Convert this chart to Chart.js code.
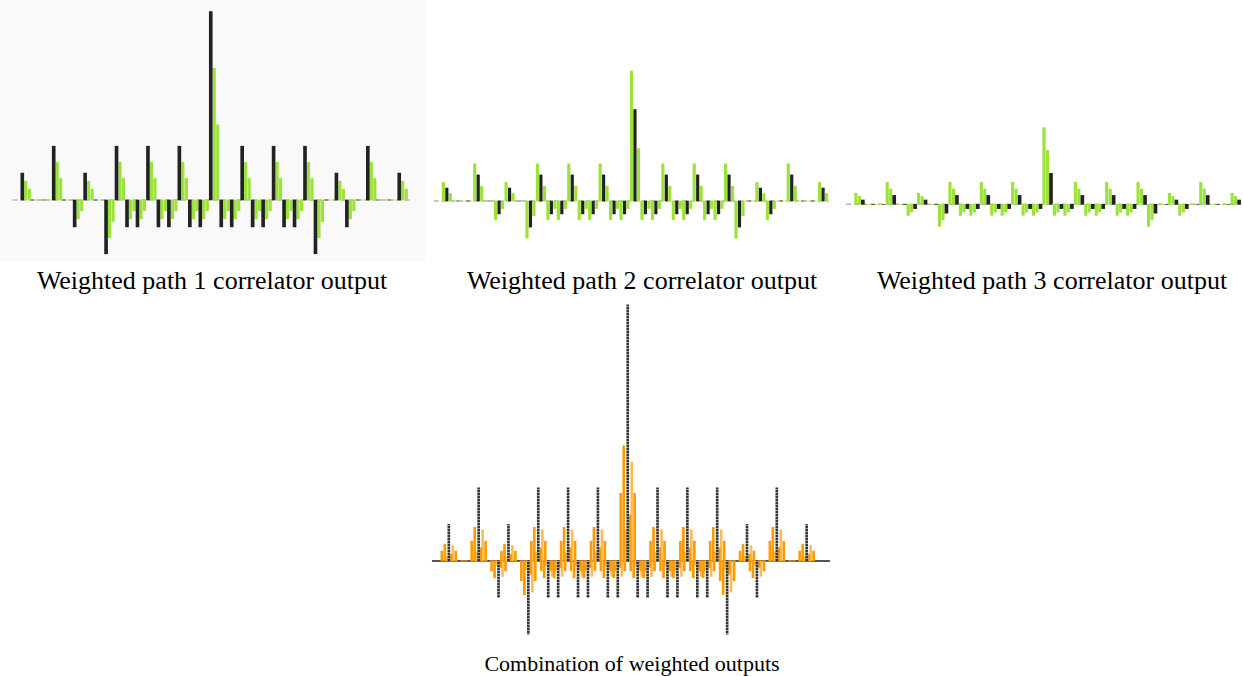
<!DOCTYPE html>
<html>
<head>
<meta charset="utf-8">
<script src="https://cdn.jsdelivr.net/npm/chart.js@4.4.1/dist/chart.umd.min.js"></script>
<style>
  html, body { margin: 0; padding: 0; background: #ffffff; width: 1243px; height: 676px; overflow: hidden; }
  canvas.panel { position: absolute; display: block; }
  .caption {
    position: absolute;
    font-family: "Liberation Serif", "Times New Roman", serif;
    color: #000;
    white-space: nowrap;
    transform: translateX(-50%);
  }
  .top { font-size: 26px; line-height: 26px; top: 268px; }
  .bottom { font-size: 22px; line-height: 22px; top: 653px; }
</style>
</head>
<body>
<canvas id="p1" class="panel" width="425" height="262" style="left:0;top:0;background:#f9f9f9"></canvas>
<canvas id="p2" class="panel" width="410" height="262" style="left:430px;top:0"></canvas>
<canvas id="p3" class="panel" width="403" height="262" style="left:840px;top:0"></canvas>
<canvas id="p4" class="panel" width="425" height="350" style="left:420px;top:295px"></canvas>

<div class="caption top" style="left:212px">Weighted path 1 correlator output</div>
<div class="caption top" style="left:642px">Weighted path 2 correlator output</div>
<div class="caption top" style="left:1052px">Weighted path 3 correlator output</div>
<div class="caption bottom" style="left:632px">Combination of weighted outputs</div>

<script>
// Correlator lag, in chips
const lags = [-18,-17,-16,-15,-14,-13,-12,-11,-10,-9,-8,-7,-6,-5,-4,-3,-2,-1,0,
              1,2,3,4,5,6,7,8,9,10,11,12,13,14,15,16,17,18];

// Path 1: on-time sample (black) and the two later samples (green)
const path1Delays = [0, 0.333, 0.667];
const path1OnTime = [1,0,0,2,0,-1,1,0,-2,2,-1,-1,2,-1,-1,2,-1,-1,7,-1,-1,2,-1,-1,2,-1,-1,2,-2,0,1,-1,0,2,0,0,1];
const path1Late1  = [0.7,0,0,1.4,0,-0.7,0.7,0,-1.4,1.4,-0.7,-0.7,1.4,-0.7,-0.7,1.4,-0.7,-0.7,4.9,-0.7,-0.7,1.4,-0.7,-0.7,1.4,-0.7,-0.7,1.4,-1.4,0,0.7,-0.7,0,1.4,0,0,0.7];
const path1Late2  = [0.4,0,0,0.8,0,-0.4,0.4,0,-0.8,0.8,-0.4,-0.4,0.8,-0.4,-0.4,0.8,-0.4,-0.4,2.8,-0.4,-0.4,0.8,-0.4,-0.4,0.8,-0.4,-0.4,0.8,-0.8,0,0.4,-0.4,0,0.8,0,0,0.4];

// Path 2: early sample (green), on-time sample (black), late sample (green)
const path2Delays = [0, 0.333, 0.667];
const path2Early  = [0.69,0,0,1.38,0,-0.69,0.69,0,-1.38,1.38,-0.69,-0.69,1.38,-0.69,-0.69,1.38,-0.69,-0.69,4.83,-0.69,-0.69,1.38,-0.69,-0.69,1.38,-0.69,-0.69,1.38,-1.38,0,0.69,-0.69,0,1.38,0,0,0.69];
const path2OnTime = [0.48,0,0,0.97,0,-0.48,0.48,0,-0.97,0.97,-0.48,-0.48,0.97,-0.48,-0.48,0.97,-0.48,-0.48,3.4,-0.48,-0.48,0.97,-0.48,-0.48,0.97,-0.48,-0.48,0.97,-0.97,0,0.48,-0.48,0,0.97,0,0,0.48];
const path2Late   = [0.28,0,0,0.55,0,-0.28,0.28,0,-0.55,0.55,-0.28,-0.28,0.55,-0.28,-0.28,0.55,-0.28,-0.28,1.95,-0.28,-0.28,0.55,-0.28,-0.28,0.55,-0.28,-0.28,0.55,-0.55,0,0.28,-0.28,0,0.55,0,0,0.28];

// Path 3: two early samples (green), on-time sample (black)
const path3Delays = [0, 0.333, 0.667];
const path3Early1 = [0.41,0,0,0.82,0,-0.41,0.41,0,-0.82,0.82,-0.41,-0.41,0.82,-0.41,-0.41,0.82,-0.41,-0.41,2.85,-0.41,-0.41,0.82,-0.41,-0.41,0.82,-0.41,-0.41,0.82,-0.82,0,0.41,-0.41,0,0.82,0,0,0.41];
const path3Early2 = [0.29,0,0,0.57,0,-0.29,0.29,0,-0.57,0.57,-0.29,-0.29,0.57,-0.29,-0.29,0.57,-0.29,-0.29,2.0,-0.29,-0.29,0.57,-0.29,-0.29,0.57,-0.29,-0.29,0.57,-0.57,0,0.29,-0.29,0,0.57,0,0,0.29];
const path3OnTime = [0.16,0,0,0.33,0,-0.16,0.16,0,-0.33,0.33,-0.16,-0.16,0.33,-0.16,-0.16,0.33,-0.16,-0.16,1.15,-0.16,-0.16,0.33,-0.16,-0.16,0.33,-0.16,-0.16,0.33,-0.33,0,0.16,-0.16,0,0.33,0,0,0.16];

// Combined output: aligned peak (black) and neighbouring samples (orange)
const combDelays   = [-0.7, -0.4, -0.2, 0.22, 0.4, 0.7];
const combPeak     = [1,0,0,2,0,-1,1,0,-2,2,-1,-1,2,-1,-1,2,-1,-1,7,-1,-1,2,-1,-1,2,-1,-1,2,-2,0,1,-1,0,2,0,0,1];
const combMinus07  = [0.27,0,0,0.54,0,-0.27,0.27,0,-0.54,0.54,-0.27,-0.27,0.54,-0.27,-0.27,0.54,-0.27,-0.27,1.85,-0.27,-0.27,0.54,-0.27,-0.27,0.54,-0.27,-0.27,0.54,-0.54,0,0.27,-0.27,0,0.54,0,0,0.27];
const combMinus04  = [0.46,0,0,0.92,0,-0.46,0.46,0,-0.92,0.92,-0.46,-0.46,0.92,-0.46,-0.46,0.92,-0.46,-0.46,3.15,-0.46,-0.46,0.92,-0.46,-0.46,0.92,-0.46,-0.46,0.92,-0.92,0,0.46,-0.46,0,0.92,0,0,0.46];
const combMinus02  = [0.12,0,0,0.24,0,-0.12,0.12,0,-0.24,0.24,-0.12,-0.12,0.24,-0.12,-0.12,0.24,-0.12,-0.12,0.85,-0.12,-0.12,0.24,-0.12,-0.12,0.24,-0.12,-0.12,0.24,-0.24,0,0.12,-0.12,0,0.24,0,0,0.12];
const combPlus02   = [0.18,0,0,0.36,0,-0.18,0.18,0,-0.36,0.36,-0.18,-0.18,0.36,-0.18,-0.18,0.36,-0.18,-0.18,1.25,-0.18,-0.18,0.36,-0.18,-0.18,0.36,-0.18,-0.18,0.36,-0.36,0,0.18,-0.18,0,0.36,0,0,0.18];
const combPlus04   = [0.42,0,0,0.85,0,-0.42,0.42,0,-0.85,0.85,-0.42,-0.42,0.85,-0.42,-0.42,0.85,-0.42,-0.42,2.7,-0.42,-0.42,0.85,-0.42,-0.42,0.85,-0.42,-0.42,0.85,-0.85,0,0.42,-0.42,0,0.85,0,0,0.42];
const combPlus07   = [0.27,0,0,0.54,0,-0.27,0.27,0,-0.54,0.54,-0.27,-0.27,0.54,-0.27,-0.27,0.54,-0.27,-0.27,1.85,-0.27,-0.27,0.54,-0.27,-0.27,0.54,-0.27,-0.27,0.54,-0.54,0,0.27,-0.27,0,0.54,0,0,0.27];

// Extent of the zero line, in chips
const zeroLine1 = [-18.92, 19.12];
const zeroLine2 = [-18.9, 18.85];
const zeroLine3 = [-18.95, 18.8];
const zeroLine4 = [-19.7, 20.35];

const GREEN = '#9be33a';
const BLACK = '#222222';
const ORANGE = '#ff9a00';
const ORANGE_LIGHT = '#ffbb55';

function stems(values, delay) {
  return values.map((v, i) => ({ x: lags[i] + delay, y: v }));
}

function barSet(values, delay, color, thickness, order) {
  return {
    type: 'bar',
    data: stems(values, delay),
    backgroundColor: color,
    borderWidth: 0,
    barThickness: thickness,
    grouped: false,
    order: order
  };
}

function zeroSet(ext, color, width, dash) {
  return {
    type: 'line',
    data: [{ x: ext[0], y: 0 }, { x: ext[1], y: 0 }],
    borderColor: color,
    borderWidth: width,
    borderDash: dash,
    pointRadius: 0,
    fill: false,
    order: 10
  };
}

function makeChart(id, datasets, xr, yr) {
  return new Chart(document.getElementById(id), {
    type: 'bar',
    data: { datasets },
    options: {
      responsive: false,
      animation: false,
      devicePixelRatio: 1,
      layout: { padding: 0 },
      plugins: { legend: { display: false }, tooltip: { enabled: false }, title: { display: false } },
      scales: {
        x: { type: 'linear', min: xr[0], max: xr[1], offset: false, display: false, grid: { display: false } },
        y: { type: 'linear', min: yr[0], max: yr[1], display: false, grid: { display: false } }
      }
    }
  });
}

// Dotted look for the black stems of the combined output
const dotCanvas = document.createElement('canvas');
dotCanvas.width = 2; dotCanvas.height = 3;
const dctx = dotCanvas.getContext('2d');
dctx.fillStyle = '#333333'; dctx.fillRect(0, 0, 2, 2);
dctx.fillStyle = '#9a9a9a'; dctx.fillRect(0, 2, 2, 1);
const dotPattern = dctx.createPattern(dotCanvas, 'repeat');

makeChart('p1', [
  zeroSet(zeroLine1, '#b5b5b5', 1.5, [5, 3]),
  barSet(path1OnTime, path1Delays[0], BLACK, 3, 1),
  barSet(path1Late1, path1Delays[1], GREEN, 2.5, 2),
  barSet(path1Late2, path1Delays[2], GREEN, 2.5, 2)
], [-20.13, 20.46], [-2.305, 7.435]);

makeChart('p2', [
  zeroSet(zeroLine2, '#b5b5b5', 1.5, [5, 3]),
  barSet(path2Early, path2Delays[0], GREEN, 2.5, 2),
  barSet(path2OnTime, path2Delays[1], BLACK, 2.5, 1),
  barSet(path2Late, path2Delays[2], GREEN, 2.5, 2)
], [-19.28, 19.95], [-2.268, 7.472]);

makeChart('p3', [
  zeroSet(zeroLine3, '#b5b5b5', 1.5, [5, 3]),
  barSet(path3Early1, path3Delays[0], GREEN, 2.5, 2),
  barSet(path3Early2, path3Delays[1], GREEN, 2.5, 2),
  barSet(path3OnTime, path3Delays[2], BLACK, 3, 1)
], [-19.52, 19.04], [-2.145, 7.595]);

makeChart('p4', [
  zeroSet(zeroLine4, '#555555', 2, []),
  barSet(combPeak, 0, dotPattern, 2, 1),
  barSet(combMinus07, combDelays[0], ORANGE, 2, 3),
  barSet(combMinus04, combDelays[1], ORANGE, 2, 3),
  barSet(combMinus02, combDelays[2], ORANGE_LIGHT, 2, 3),
  barSet(combPlus02, combDelays[3], ORANGE, 2, 3),
  barSet(combPlus04, combDelays[4], ORANGE_LIGHT, 2, 3),
  barSet(combPlus07, combDelays[5], ORANGE, 2, 3)
], [-20.9, 21.86], [-2.295, 7.268]);
</script>
</body>
</html>
